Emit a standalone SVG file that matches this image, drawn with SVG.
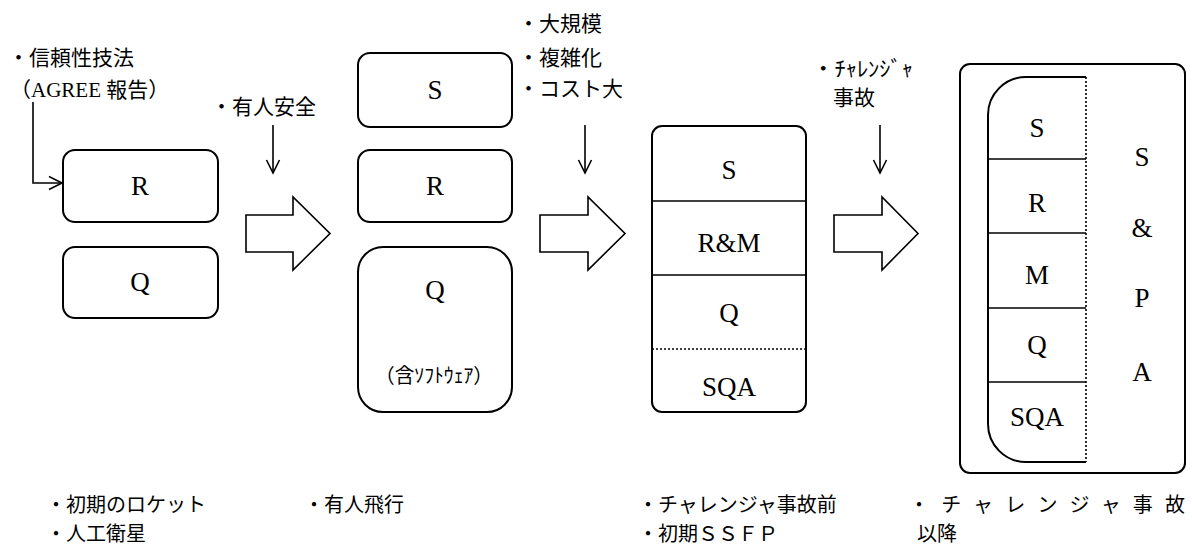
<svg xmlns="http://www.w3.org/2000/svg" width="1192" height="547" viewBox="0 0 1192 547">
<style>
.box{fill:#fff;stroke:#000;stroke-width:2}
.ln{fill:none;stroke:#000;stroke-width:1.6}
.dot{fill:none;stroke:#000;stroke-width:1.6;stroke-dasharray:2 2}
.blk{fill:#fff;stroke:#000;stroke-width:1.6;stroke-linejoin:miter}
.lt{font-family:'Liberation Serif','DejaVu Serif',serif;font-size:27px;text-anchor:middle;fill:#000}
.jp{font-family:'Liberation Serif','Noto Sans CJK JP',serif;font-size:21px;fill:#000}
.jb{font-family:'Liberation Serif','Noto Sans CJK JP',serif;font-size:20px;fill:#000}
</style>
<defs>
<marker id="ah" markerWidth="16" markerHeight="16" refX="14" refY="8" orient="auto" markerUnits="userSpaceOnUse">
<path d="M1 1.5 L14 8 L1 14.5" fill="none" stroke="#000" stroke-width="1.6"/>
</marker>
</defs>

<g id="connectors">
<polyline class="ln" points="33,102 33,183 62,183" marker-end="url(#ah)"/>
<line class="ln" x1="273" y1="125" x2="273" y2="173" marker-end="url(#ah)"/>
<line class="ln" x1="585" y1="125" x2="585" y2="173" marker-end="url(#ah)"/>
<line class="ln" x1="880" y1="125" x2="880" y2="173" marker-end="url(#ah)"/>
<polygon class="blk" points="246,215 293,215 293,197 330,233.5 293,270 293,252 246,252"/>
<polygon class="blk" points="540,215 588,215 588,197 625,233.5 588,270 588,252 540,252"/>
<polygon class="blk" points="834,215 882,215 882,197 918,233.5 882,270 882,252 834,252"/>
</g>

<g id="notes">
<text class="jp" x="8" y="65">・信頼性技法</text>
<text class="jp" x="10" y="97">（AGREE 報告）</text>
<text class="jp" x="211" y="114">・有人安全</text>
<text class="jp" x="518" y="31">・大規模</text>
<text class="jp" x="518" y="65">・複雑化</text>
<text class="jp" x="518" y="96">・コスト大</text>
<text class="jp" x="812" y="76" textLength="101" lengthAdjust="spacingAndGlyphs">・ﾁｬﾚﾝｼﾞｬ</text>
<text class="jp" x="833" y="105">事故</text>
<text class="jb" x="46" y="512">・初期のロケット</text>
<text class="jb" x="46" y="541">・人工衛星</text>
<text class="jb" x="304" y="512">・有人飛行</text>
<text class="jb" x="638" y="512">・チャレンジャ事故前</text>
<text class="jb" x="638" y="541">・初期ＳＳＦＰ</text>
<text class="jb" x="909" y="512" textLength="276" lengthAdjust="spacing">・チャレンジャ事故</text>
<text class="jb" x="917" y="541">以降</text>
</g>

<g id="stage1">
<rect class="box" x="63" y="150" width="155" height="72" rx="12"/>
<text class="lt" x="140" y="195">R</text>
<rect class="box" x="63" y="247" width="155" height="71" rx="12"/>
<text class="lt" x="140" y="291">Q</text>
</g>

<g id="stage2">
<rect class="box" x="358" y="53" width="154" height="74" rx="12"/>
<text class="lt" x="435" y="99">S</text>
<rect class="box" x="358" y="150" width="154" height="72" rx="12"/>
<text class="lt" x="435" y="195">R</text>
<rect class="box" x="358" y="247" width="154" height="165" rx="25"/>
<text class="lt" x="435" y="299">Q</text>
<text class="jb" x="375" y="383" textLength="118" lengthAdjust="spacingAndGlyphs">（含ｿﾌﾄｳｪｱ）</text>
</g>

<g id="stage3">
<rect class="box" x="652" y="126" width="154" height="286" rx="10"/>
<line class="ln" x1="652" y1="201" x2="806" y2="201"/>
<line class="ln" x1="652" y1="275" x2="806" y2="275"/>
<line class="dot" x1="652" y1="349" x2="806" y2="349"/>
<text class="lt" x="729" y="179">S</text>
<text class="lt" x="729" y="252">R&amp;M</text>
<text class="lt" x="729" y="322">Q</text>
<text class="lt" x="729" y="396">SQA</text>
</g>

<g id="stage4">
<rect class="box" x="960" y="64" width="225" height="409" rx="10"/>
<path class="ln" style="stroke-width:2" d="M1086 77 L1026 77 A38 38 0 0 0 988 115 L988 424 A38 38 0 0 0 1026 462 L1086 462"/>
<line class="dot" x1="1086" y1="77" x2="1086" y2="462"/>
<line class="ln" x1="988" y1="159" x2="1086" y2="159"/>
<line class="ln" x1="988" y1="233" x2="1086" y2="233"/>
<line class="ln" x1="988" y1="308" x2="1086" y2="308"/>
<line class="ln" x1="988" y1="382" x2="1086" y2="382"/>
<text class="lt" x="1037" y="137">S</text>
<text class="lt" x="1037" y="212">R</text>
<text class="lt" x="1037" y="284">M</text>
<text class="lt" x="1037" y="354">Q</text>
<text class="lt" x="1037" y="426">SQA</text>
<text class="lt" x="1142" y="166">S</text>
<text class="lt" x="1142" y="237">&amp;</text>
<text class="lt" x="1142" y="307">P</text>
<text class="lt" x="1142" y="381">A</text>
</g>
</svg>
